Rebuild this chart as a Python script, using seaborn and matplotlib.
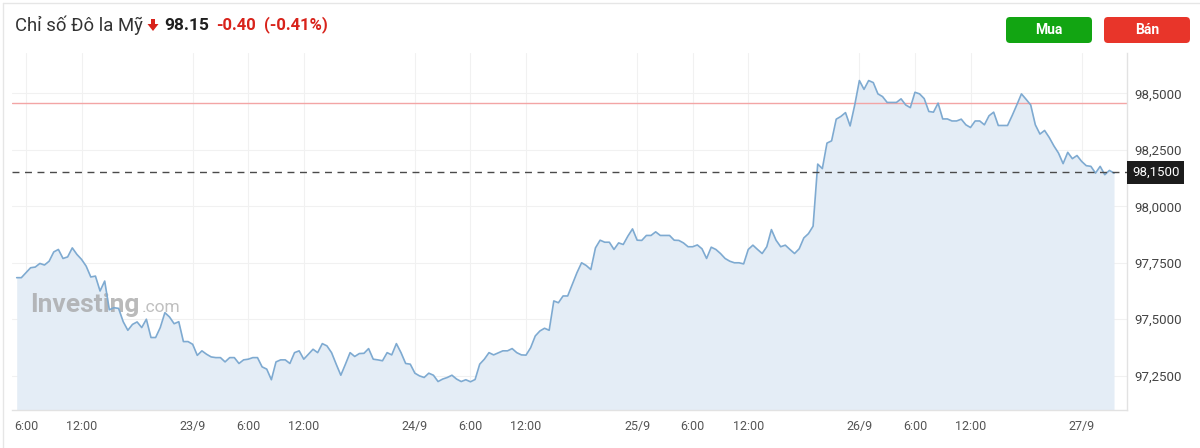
import numpy as np
import pandas as pd
import seaborn as sns
import matplotlib.pyplot as plt
from matplotlib.lines import Line2D
from matplotlib.patches import FancyBboxPatch, Polygon
from matplotlib.ticker import FuncFormatter
from matplotlib.transforms import blended_transform_factory

# --- data: US Dollar Index, 30-minute closes, starting 22/9 5:00 ---
day_22 = [97.684, 97.684, 97.706, 97.728, 97.731, 97.747, 97.740, 97.757, 97.798, 97.809,
          97.769, 97.776, 97.816, 97.787, 97.765, 97.735, 97.687, 97.691, 97.625, 97.669,
          97.542, 97.551, 97.548, 97.489, 97.451, 97.477, 97.488, 97.463, 97.500, 97.419,
          97.419, 97.463, 97.529, 97.510, 97.480, 97.489, 97.401, 97.401]
day_23 = [97.389, 97.340, 97.360, 97.345, 97.333, 97.330, 97.330, 97.311, 97.330, 97.330,
          97.304, 97.320, 97.323, 97.330, 97.330, 97.289, 97.279, 97.232, 97.311, 97.320,
          97.320, 97.304, 97.352, 97.360, 97.323, 97.345, 97.367, 97.352, 97.392, 97.382,
          97.352, 97.301, 97.252, 97.301, 97.352, 97.335, 97.348, 97.349, 97.370, 97.323,
          97.320, 97.316, 97.352, 97.342, 97.392, 97.352, 97.304, 97.301]
day_24 = [97.261, 97.249, 97.242, 97.261, 97.252, 97.224, 97.235, 97.242, 97.252, 97.235,
          97.224, 97.232, 97.223, 97.233, 97.301, 97.323, 97.352, 97.342, 97.351, 97.360,
          97.360, 97.370, 97.352, 97.342, 97.341, 97.374, 97.426, 97.448, 97.460, 97.451,
          97.581, 97.573, 97.603, 97.603, 97.654, 97.706, 97.750, 97.738, 97.720, 97.816,
          97.850, 97.841, 97.841, 97.809, 97.838, 97.831, 97.868, 97.900]
day_25 = [97.850, 97.849, 97.871, 97.871, 97.887, 97.871, 97.871, 97.871, 97.850, 97.849,
          97.838, 97.821, 97.821, 97.829, 97.812, 97.769, 97.819, 97.809, 97.791, 97.769,
          97.757, 97.750, 97.750, 97.745, 97.809, 97.828, 97.809, 97.791, 97.821, 97.897,
          97.850, 97.821, 97.828, 97.809, 97.791, 97.812, 97.860, 97.879, 97.912, 98.187,
          98.167, 98.280, 98.290, 98.386, 98.398, 98.415, 98.356, 98.449]
day_26 = [98.557, 98.518, 98.557, 98.548, 98.498, 98.486, 98.460, 98.460, 98.460, 98.476,
          98.449, 98.437, 98.505, 98.498, 98.477, 98.420, 98.417, 98.457, 98.387, 98.387,
          98.378, 98.378, 98.386, 98.361, 98.349, 98.378, 98.378, 98.361, 98.401, 98.417,
          98.358, 98.358, 98.358, 98.402, 98.449, 98.498, 98.474, 98.449, 98.361, 98.320,
          98.336, 98.305, 98.268, 98.236, 98.189, 98.239, 98.211, 98.225]
day_27 = [98.199, 98.180, 98.177, 98.147, 98.177, 98.140, 98.159, 98.147]

start_hour = 5          # 22/9 5:00, hours counted from 22/9 0:00
step_hours = 0.5

tick_hours = [6, 12, 24, 30, 36, 48, 54, 60, 72, 78, 84, 96, 102, 108, 120]
tick_labels = ['6:00', '12:00', '23/9', '6:00', '12:00', '24/9', '6:00', '12:00',
               '25/9', '6:00', '12:00', '26/9', '6:00', '12:00', '27/9']
y_ticks = [97.25, 97.50, 97.75, 98.00, 98.25, 98.50]

last_price = 98.15
prev_close = 98.458

title = 'Chỉ số Đô la Mỹ'
price_text = '98.15'
change_text = '-0.40'
change_pct_text = '(-0.41%)'

# --- build frame ---
values = day_22 + day_23 + day_24 + day_25 + day_26 + day_27
hours = start_hour + step_hours * np.arange(len(values))
df = pd.DataFrame({'hour': hours, 'value': values})

sns.set_style('white')
plt.rcParams['font.family'] = ['Roboto', 'DejaVu Sans']

W, H = 1200, 448
fig = plt.figure(figsize=(W / 100, H / 100), dpi=100)
ax = fig.add_axes([12 / W, 1 - 410 / H, (1127 - 12) / W, (410 - 53) / H])

line_color = '#7eaad1'
fill_color = '#e4edf6'
y_bottom, y_top = 97.098, 98.679

ax.fill_between(df['hour'], df['value'], y_bottom, color=fill_color, lw=0, zorder=1)
sns.lineplot(data=df, x='hour', y='value', ax=ax, color=line_color, lw=1.2, zorder=3)

ax.axhline(prev_close, color='#f3a5a5', lw=1, zorder=2)
ax.axhline(last_price, color='#4a4a4a', lw=1, dashes=(5, 4), zorder=4)

ax.set_xlim(4.49, 124.9)
ax.set_ylim(y_bottom, y_top)

ax.set_xticks(tick_hours)
ax.set_xticklabels(tick_labels)
ax.set_yticks(y_ticks)
ax.yaxis.tick_right()
ax.yaxis.set_major_formatter(FuncFormatter(lambda v, _: f'{v:.4f}'.replace('.', ',')))
ax.tick_params(axis='x', length=0, pad=7, labelsize=9, labelcolor='#555555')
ax.tick_params(axis='y', length=0, pad=5, labelsize=9.5, labelcolor='#444444')
ax.set_xlabel('')
ax.set_ylabel('')
ax.grid(True, color='#f1f1f1', lw=0.8)
ax.set_axisbelow(True)

for side in ['left', 'top']:
    ax.spines[side].set_visible(False)
for side in ['right', 'bottom']:
    ax.spines[side].set_color('#e2e2e2')
    ax.spines[side].set_linewidth(1)

# watermark
ax.text((30 - 12) / 1115, (410 - 305) / 357, 'Investing', transform=ax.transAxes,
        fontsize=19, weight='bold', color='#a3a3a3', alpha=0.75, va='center', ha='left', zorder=2)
ax.text((142 - 12) / 1115, (410 - 307) / 357, '.com', transform=ax.transAxes,
        fontsize=12.5, color='#ababab', alpha=0.75, va='center', ha='left', zorder=2)

# last price label on the right axis
trans = blended_transform_factory(fig.transFigure, ax.transData)
fig.text(1132 / W, last_price, '98,1500', transform=trans, fontsize=9.5, color='white',
         va='center', ha='left',
         bbox=dict(boxstyle='square,pad=0.35', fc='#1c1c1c', ec='none'))

# card border
fig.add_artist(Line2D([3 / W, 1], [1 - 3 / H, 1 - 3 / H], color='#e6e6e6', lw=1))
fig.add_artist(Line2D([3 / W, 3 / W], [0, 1 - 3 / H], color='#e6e6e6', lw=1))

# header
fig.text(15 / W, 1 - 25 / H, title, fontsize=13.3, color='#333333', va='center', ha='left')
arrow = Polygon([(151, 19), (155, 19), (155, 24), (158.5, 24), (153, 31), (147.5, 24), (151, 24)],
                closed=True, fc='#d8231b', ec='none')
arrow.set_xy([(x / W, 1 - y / H) for x, y in arrow.get_xy()])
arrow.set_transform(fig.transFigure)
fig.add_artist(arrow)
fig.text(164 / W, 1 - 25 / H, price_text, fontsize=12.5, weight='bold', color='#1f1f1f',
         va='center', ha='left')
fig.text(216 / W, 1 - 25 / H, change_text, fontsize=12, weight='bold', color='#d8231b',
         va='center', ha='left')
fig.text(264 / W, 1 - 25 / H, change_pct_text, fontsize=12, weight='bold', color='#d8231b',
         va='center', ha='left')

# buttons
def button(x0, x1, y0, y1, color, label):
    box = FancyBboxPatch((x0 / 100, (H - y1) / 100), (x1 - x0) / 100, (y1 - y0) / 100,
                         boxstyle='round,pad=0,rounding_size=0.04',
                         transform=fig.dpi_scale_trans, fc=color, ec='none')
    fig.add_artist(box)
    fig.text((x0 + x1) / 2 / W, 1 - (y0 + y1) / 2 / H, label, fontsize=10, weight='bold',
             color='white', ha='center', va='center')

button(1006, 1092, 17, 43, '#12a512', 'Mua')
button(1104, 1190, 17, 43, '#e8352a', 'Bán')

fig.savefig('out.png', dpi=100)
